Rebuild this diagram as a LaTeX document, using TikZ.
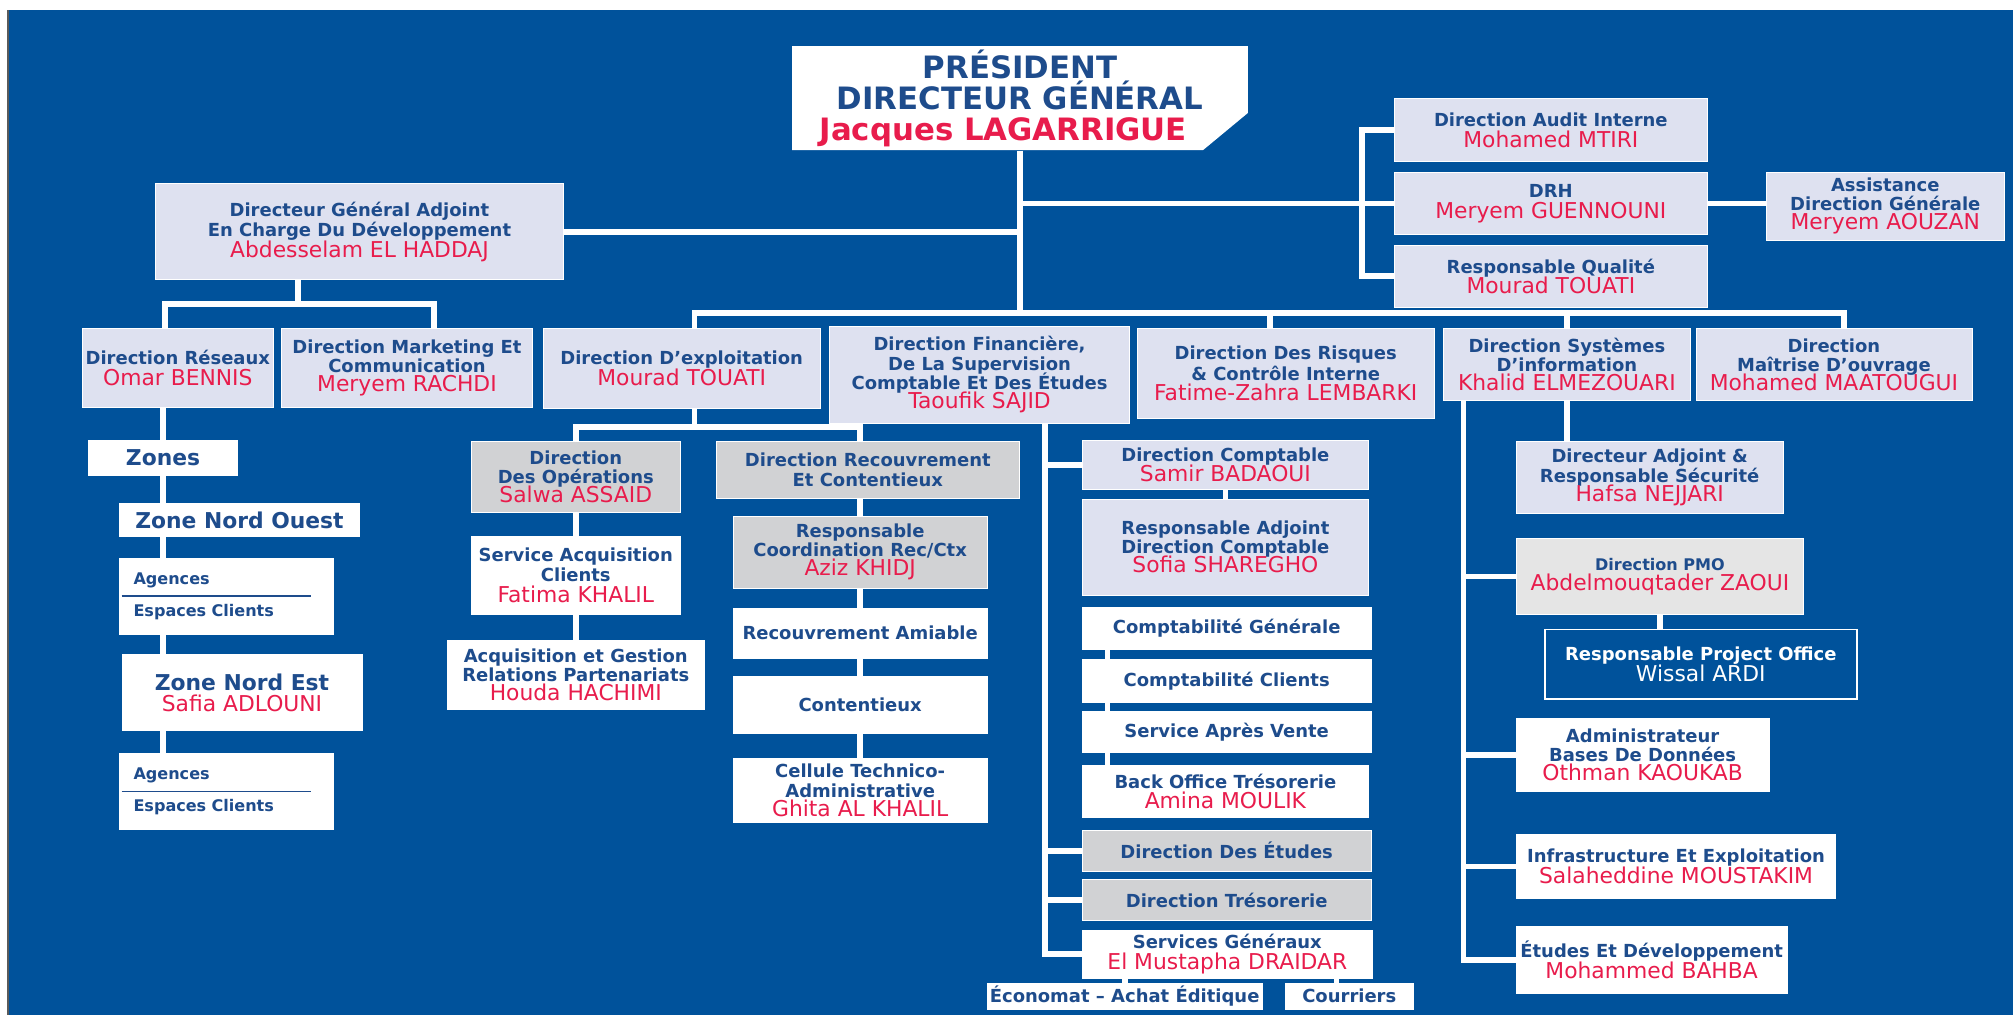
\documentclass[tikz,border=0pt]{standalone}
\usepackage{fontspec}
\setmainfont{DejaVu Sans}
\usetikzlibrary{positioning}

\definecolor{bgblue}{RGB}{0,82,155}
\definecolor{edgegrey}{RGB}{90,90,90}
\definecolor{headblue}{RGB}{30,76,140}
\definecolor{namered}{RGB}{232,28,76}
\definecolor{lavbox}{RGB}{222,225,240}
\definecolor{greybox}{RGB}{209,210,212}
\definecolor{pmobox}{RGB}{229,229,229}

\newcommand{\nm}[1]{{\fontsize{17}{16}\selectfont\mdseries #1}}
\newcommand{\who}[1]{\textcolor{namered}{\nm{#1}}}
\lineskiplimit=-30pt

\begin{document}
\begin{tikzpicture}[x=1pt,y=-1pt,
    orgbox/.style={draw=white, line width=0.6pt, inner sep=0pt, align=center, text=headblue,
      font=\fontsize{14}{16}\selectfont\bfseries},
    lav/.style={orgbox, fill=lavbox},
    wbox/.style={orgbox, fill=white},
    gbox/.style={orgbox, fill=greybox},
    tight/.style={font=\fontsize{14}{15}\selectfont\bfseries},
    zone/.style={font=\fontsize{17}{16}\selectfont\bfseries},
    agbox/.style={wbox, align=left, text width=145pt, font=\fontsize{12.5}{16}\selectfont\bfseries},
    sz/.style 2 args={minimum width=#1pt, minimum height=#2pt},
    link/.style={draw=white, line width=4.5pt}]

\useasboundingbox (0,0) rectangle (1568,791);
\fill[white] (0,0) rectangle (1568,791);
\fill[edgegrey] (5.2,7.8) rectangle (7.2,791);
\fill[bgblue] (7.2,7.8) rectangle (1568,791);

% top
\fill[white] (617,36) -- (972,36) -- (972,88) -- (937,117) -- (617,117) -- cycle;
\node[orgbox, draw=none, sz={355}{81}, font=\fontsize{24}{24}\selectfont\bfseries] (pdg) at (794.5,76.5)
  {PRÉSIDENT\\DIRECTEUR GÉNÉRAL\\\hspace*{-26pt}{\color{namered}Jacques LAGARRIGUE}};
\node[lav, sz={318}{75}] (dga) at (280,180.5)
  {Directeur Général Adjoint\\En Charge Du Développement\\\who{Abdesselam EL HADDAJ}};
\node[lav, sz={244}{49}] (audit) at (1208,101.5) {Direction Audit Interne\\\who{Mohamed MTIRI}};
\node[lav, sz={244}{48}] (drh) [below=8pt of audit] {DRH\\\who{Meryem GUENNOUNI}};
\node[lav, sz={244}{48}] (qual) [below=8pt of drh] {Responsable Qualité\\\who{Mourad TOUATI}};
\node[lav, sz={185}{53}, tight] (assist) at (1468.5,160.5) {Assistance\\Direction Générale\\\who{Meryem AOUZAN}};

% directions
\node[lav, sz={149}{61}] (res) at (138.5,286.5) {Direction Réseaux\\\who{Omar BENNIS}};
\node[lav, sz={196}{61}, tight] (mkt) at (317,286.5) {Direction Marketing Et\\Communication\\\who{Meryem RACHDI}};
\node[lav, sz={216}{62}] (expl) at (531,287) {Direction D'exploitation\\\who{Mourad TOUATI}};
\node[lav, sz={234}{76}, tight] (fin) at (763,292)
  {Direction Financière,\\De La Supervision\\Comptable Et Des Études\\\who{Taoufik SAJID}};
\node[lav, sz={231}{70}] (risk) at (1001.5,291) {Direction Des Risques\\\& Contrôle Interne\\\who{Fatime-Zahra LEMBARKI}};
\node[lav, sz={193}{56}, tight] (si) at (1220.5,284) {Direction Systèmes\\D’information\\\who{Khalid ELMEZOUARI}};
\node[lav, sz={215}{56}, tight] (moa) at (1428.5,284) {Direction\\Maîtrise D’ouvrage\\\who{Mohamed MAATOUGUI}};

% reseaux
\node[wbox, sz={116}{27}, zone] (zones) at (127,356.5) {Zones};
\node[wbox, sz={187}{26}, zone] (zno) at (186.5,405) {Zone Nord Ouest};
\node[agbox, sz={167}{59}] (ag1) at (176.5,464.5) {Agences\\[9pt]Espaces Clients};
\node[wbox, sz={187}{59}, zone] (zne) at (188.5,539.5) {Zone Nord Est\\\who{Safia ADLOUNI}};
\node[agbox, sz={167}{59}] (ag2) at (176.5,616.5) {Agences\\[9pt]Espaces Clients};

% exploitation
\node[gbox, sz={163}{55}, tight] (ops) at (448.5,371.5) {Direction\\Des Opérations\\\who{Salwa ASSAID}};
\node[wbox, sz={163}{61}] (sac) [below=18pt of ops] {Service Acquisition\\Clients\\\who{Fatima KHALIL}};
\node[wbox, sz={200}{53}, tight] (agp) [below=20pt of sac] {Acquisition et Gestion\\Relations Partenariats\\\who{Houda HACHIMI}};
\node[gbox, sz={236}{44}] (rec) at (676,366) {Direction Recouvrement\\Et Contentieux};
\node[gbox, sz={198}{56}, tight] (rco) at (670,430) {Responsable\\Coordination Rec/Ctx\\\who{Aziz KHIDJ}};
\node[wbox, sz={198}{39}] (ram) [below=15pt of rco] {Recouvrement Amiable};
\node[wbox, sz={198}{44}] (ctx) [below=14pt of ram] {Contentieux};
\node[wbox, sz={198}{50}, tight] (cta) [below=19pt of ctx] {Cellule Technico-\\Administrative\\\who{Ghita AL KHALIL}};

% finance
\coordinate (fcol) at ([xshift=51pt]fin.south);
\node[lav, sz={223}{38}] (dcp) at (954.5,362) {Direction Comptable\\\who{Samir BADAOUI}};
\node[lav, sz={223}{75}, tight] (rad) [below=7pt of dcp] {Responsable Adjoint\\Direction Comptable\\\who{Sofia SHAREGHO}};
\node[wbox, sz={225}{33}] (cgen) [below=9pt of rad.south west, anchor=north west] {Comptabilité Générale};
\node[wbox, sz={225}{33}] (ccli) [below=7pt of cgen] {Comptabilité Clients};
\node[wbox, sz={225}{32}] (sav) [below=7pt of ccli] {Service Après Vente};
\node[wbox, sz={223}{41}] (bot) [below=9pt of sav.south west, anchor=north west] {Back Office Trésorerie\\\who{Amina MOULIK}};
\node[gbox, sz={225}{32}] (det) [below=9pt of bot.south west, anchor=north west] {Direction Des Études};
\node[gbox, sz={225}{32}] (dtr) [below=6pt of det] {Direction Trésorerie};
\node[wbox, sz={226}{37}] (sg) [below=7pt of dtr.south west, anchor=north west] {Services Généraux\\\who{El Mustapha DRAIDAR}};
\node[wbox, sz={214}{20}] (eco) at (876,776) {Économat – Achat Éditique};
\node[wbox, sz={100}{20}] (cou) at (1051,776) {Courriers};

% systemes d'information
\coordinate (scol) at ([xshift=-80.5pt]si.south);
\node[lav, sz={208}{56}, tight] (dadj) at (1285,372) {Directeur Adjoint \&\\Responsable Sécurité\\\who{Hafsa NEJJARI}};
\node[orgbox, fill=pmobox, sz={224}{59}] (pmo) [below=19pt of dadj.south west, anchor=north west]
  {{\fontsize{12.5}{16}\selectfont Direction PMO}\\\who{Abdelmouqtader ZAOUI}};
\node[orgbox, fill=bgblue, line width=1.2pt, text=white, sz={243}{54}] (rpo) [below=11pt of pmo.south west, anchor=north west, xshift=22pt]
  {Responsable Project Office\\\nm{Wissal ARDI}};
\node[wbox, sz={197}{57}, tight] (abd) [below=14pt of rpo.south west, anchor=north west, xshift=-22pt]
  {Administrateur\\Bases De Données\\\who{Othman KAOUKAB}};
\node[wbox, sz={249}{50}] (inf) [below=33pt of abd.south west, anchor=north west] {Infrastructure Et Exploitation\\\who{Salaheddine MOUSTAKIM}};
\node[wbox, sz={211}{52}] (etd) [below=21pt of inf.south west, anchor=north west] {Études Et Développement\\\who{Mohammed BAHBA}};

% links
\draw[link] (pdg.south) -- ++(0,127);
\draw[link] (dga.east) -- (dga.east -| pdg.south);
\draw[link] (pdg.south |- drh.west) -- (drh.west);
\draw[link] (audit.west) -- ++(-25,0) |- (qual.west);
\draw[link] (drh.east) -- (drh.east -| assist.west);
\draw[link] ([xshift=10pt]expl.north) -- ++(0,-12) -| ([xshift=8pt]moa.north);
\draw[link] ([xshift=-12pt]risk.north) -- ++(0,-12);
\draw[link] (si.north) -- ++(0,-12);

\draw[link] ([xshift=-48pt]dga.south) -- ++(0,19);
\draw[link] ([xshift=-10pt]res.north) -- ++(0,-19) -| ([xshift=21pt]mkt.north);
\draw[link] (zones.north |- res.south) -- (zones.north)
  (zones.south) -- (zones.south |- zno.north)
  (zones.south |- zno.south) -- (zones.south |- ag1.north)
  (zones.south |- ag1.south) -- (zones.south |- zne.north)
  (zones.south |- zne.south) -- (zones.south |- ag2.north);
\draw[headblue, line width=1.3pt] ([xshift=2pt]ag1.west) -- ([xshift=-18pt]ag1.east);
\draw[headblue, line width=1.3pt] ([xshift=2pt]ag2.west) -- ([xshift=-18pt]ag2.east);

\draw[link] ([xshift=10pt]expl.south) -- ++(0,15);
\draw[link] (ops.north) -- ++(0,-11) -| (rco.north |- rec.north);
\draw[link] (ops.south) -- (sac.north) (sac.south) -- (agp.north);
\draw[link] (rco.north |- rec.south) -- (rco.north) (rco.south) -- (ram.north)
  (ram.south) -- (ctx.north) (ctx.south) -- (cta.north);

\draw[link] (fcol) |- (sg.west);
\draw[link] (fcol |- dcp.west) -- (dcp.west) (fcol |- det.west) -- (det.west) (fcol |- dtr.west) -- (dtr.west);
\draw[link] (dcp.south) -- (rad.north);
\draw[link] ([xshift=20pt]cgen.south west) -- ([xshift=20pt]ccli.north west)
  ([xshift=20pt]ccli.south west) -- ([xshift=20pt]sav.north west)
  ([xshift=20pt]sav.south west) -- ([xshift=20pt]bot.north west);
\draw[link] (eco.north) -- (eco.north |- sg.south) ([xshift=-10pt]cou.north) -- ++(0,-9);

\draw[link] (si.south) -- (si.south |- dadj.north);
\draw[link] (scol) |- (etd.west);
\draw[link] (scol |- pmo.west) -- (pmo.west) (scol |- abd.west) -- (abd.west) (scol |- inf.west) -- (inf.west);
\draw[link] (pmo.south) -- (pmo.south |- rpo.north);
\end{tikzpicture}
\end{document}
